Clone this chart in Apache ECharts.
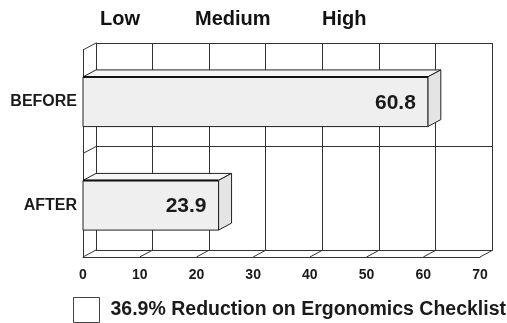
<!DOCTYPE html>
<html><head><meta charset="utf-8">
<script src="https://cdn.jsdelivr.net/npm/echarts@6/dist/echarts.min.js"></script>
<style>html,body{margin:0;padding:0;background:#fff}#c{width:507px;height:323px}</style>
</head><body><div id="c"></div>
<script>
var categories = ['BEFORE', 'AFTER'];
var values = [60.8, 23.9];
var xTicks = [0, 10, 20, 30, 40, 50, 60, 70];
var levelLabels = ['Low', 'Medium', 'High'];
var legendName = '36.9% Reduction on Ergonomics Checklist';

var DX = 13, DY = -7;
var LINE = '#333';
var FONT = 'Liberation Sans, Arial, sans-serif';

var chart = echarts.init(document.getElementById('c'));

function depthLines(params, api) {
  var v = api.value(0);
  var p = api.coord([v, 1]);
  var band = api.size([0, 1])[1];
  var fy = p[1] + band / 2;
  return {
    type: 'line',
    shape: { x1: p[0], y1: fy, x2: p[0] + DX, y2: fy + DY },
    style: { stroke: LINE, lineWidth: 1 }
  };
}
function wallLines(params, api) {
  var idx = api.value(0);
  var p = api.coord([0, idx]);
  var band = api.size([0, 1])[1];
  var ty = p[1] - band / 2;
  return {
    type: 'line',
    shape: { x1: p[0], y1: ty, x2: p[0] + DX, y2: ty + DY },
    style: { stroke: LINE, lineWidth: 1 }
  };
}
function bar3d(params, api) {
  var idx = api.value(0), v = api.value(1);
  var p0 = api.coord([0, idx]);
  var p1 = api.coord([v, idx]);
  var band = api.size([0, 1])[1];
  var h = band * 0.48;
  var x0 = p0[0], x1 = p1[0], yt = p0[1] - h / 2, yb = p0[1] + h / 2;
  return {
    type: 'group',
    children: [
      { type: 'polygon', shape: { points: [[x0, yt], [x1, yt], [x1 + DX, yt + DY], [x0 + DX, yt + DY]] },
        style: { fill: '#f6f6f6', stroke: '#222', lineWidth: 1 } },
      { type: 'polygon', shape: { points: [[x1, yt], [x1 + DX, yt + DY], [x1 + DX, yb + DY], [x1, yb]] },
        style: { fill: '#e4e4e4', stroke: '#222', lineWidth: 1 } },
      { type: 'rect', shape: { x: x0, y: yt, width: x1 - x0, height: yb - yt },
        style: { fill: '#efefef', stroke: '#222', lineWidth: 1 } },
      { type: 'line', shape: { x1: x0, y1: yt, x2: x1, y2: yt }, style: { stroke: '#111', lineWidth: 2 } },
      { type: 'text', x: x1 - 12, y: p0[1] + 1,
        style: { text: String(values[idx]), fill: '#1a1a1a', font: 'bold 21px ' + FONT, align: 'right', verticalAlign: 'middle' } }
    ]
  };
}

var option = {
  backgroundColor: '#fff',
  animation: false,
  legend: {
    left: 73, top: 297, itemWidth: 26, itemHeight: 25, padding: 0,
    data: [{ name: legendName, icon: 'rect', itemStyle: { color: '#fff', borderColor: '#444', borderWidth: 1 } }],
    textStyle: { fontFamily: FONT, fontWeight: 'bold', fontSize: 19.5, color: '#1a1a1a', padding: [0, 0, 0, 6] }
  },
  graphic: levelLabels.map(function (t, i) {
    return { type: 'text', left: [100, 195, 322][i], top: 9,
      style: { text: t, font: 'bold 20px ' + FONT, fill: '#111' } };
  }),
  grid: [
    { left: 83, right: 27, top: 50, bottom: 66 },
    { left: 96, right: 15, top: 43, bottom: 73 }
  ],
  xAxis: [
    { gridIndex: 0, type: 'value', min: 0, max: 70, interval: 10,
      axisLine: { show: true, lineStyle: { color: LINE, width: 1 } }, axisTick: { show: false },
      splitLine: { show: false },
      axisLabel: { margin: 11, fontFamily: FONT, fontWeight: 'bold', fontSize: 14, color: '#1a1a1a' } },
    { gridIndex: 1, type: 'value', min: 0, max: 70, interval: 10,
      axisLine: { show: true, lineStyle: { color: LINE, width: 1 } }, axisTick: { show: false },
      axisLabel: { show: false },
      splitLine: { show: true, lineStyle: { color: LINE, width: 1 } } }
  ],
  yAxis: [
    { gridIndex: 0, type: 'category', data: categories, inverse: true,
      axisLine: { show: true, lineStyle: { color: LINE, width: 1 } }, axisTick: { show: false },
      axisLabel: { margin: 6, fontFamily: FONT, fontWeight: 'bold', fontSize: 16, color: '#1a1a1a' } },
    { gridIndex: 1, type: 'category', data: categories, inverse: true,
      axisLine: { show: true, lineStyle: { color: LINE, width: 1 } }, axisTick: { show: false },
      axisLabel: { show: false },
      splitLine: { show: true, lineStyle: { color: LINE, width: 1 } } }
  ],
  series: [
    { type: 'custom', xAxisIndex: 0, yAxisIndex: 0, renderItem: depthLines, silent: true,
      data: xTicks.map(function (t) { return [t]; }), z: 1 },
    { type: 'custom', xAxisIndex: 0, yAxisIndex: 0, renderItem: wallLines, silent: true,
      data: categories.map(function (c, i) { return [i]; }), z: 1 },
    { name: legendName, type: 'custom', xAxisIndex: 0, yAxisIndex: 0, renderItem: bar3d,
      itemStyle: { color: '#fff', borderColor: '#444' },
      data: values.map(function (v, i) { return [i, v]; }), z: 5 }
  ]
};
chart.setOption(option);
</script></body></html>
